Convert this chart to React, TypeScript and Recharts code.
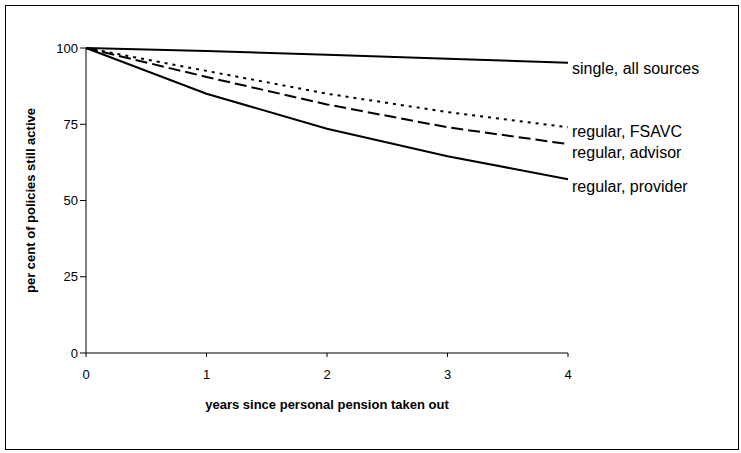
import React from "react";
import { LineChart, Line, XAxis, YAxis, Label, LabelList } from "recharts";

const years = [0, 1, 2, 3, 4];
const single = [100, 99, 97.8, 96.5, 95.2];
const fsavc = [100, 92.5, 85, 79, 74];
const advisor = [100, 90.5, 81.5, 74, 68.5];
const provider = [100, 85, 73.5, 64.5, 57];
const yTicks = [0, 25, 50, 75, 100];

const data = years.map((y, i) => ({ y, single: single[i], fsavc: fsavc[i], advisor: advisor[i], provider: provider[i] }));

const endLabel = (text: string, dy: number) => (props: any) => {
  if (props.index !== years.length - 1) return null;
  return (
    <text x={props.x + 4} y={props.y + dy} fontSize={16} fontFamily="Liberation Sans, Arial" fill="#000" dominantBaseline="middle">
      {text}
    </text>
  );
};

export default function App() {
  return (
    <div style={{ position: "absolute", left: 5, top: 5, width: 734, height: 445, border: "1px solid #000", boxSizing: "border-box", background: "#fff" }}>
      <LineChart width={732} height={443} data={data} margin={{ top: 42, right: 170, bottom: 56, left: 40 }}>
        <XAxis dataKey="y" type="number" domain={[0, 4]} ticks={years} axisLine={{ stroke: "#000" }} tickLine={{ stroke: "#000" }} tickSize={4}
          tick={{ fill: "#000", fontSize: 13, fontFamily: "Liberation Sans, Arial", dy: 11 }} height={40}>
          <Label value="years since personal pension taken out" position="bottom" offset={7} style={{ fontWeight: "bold", fontSize: 13, fill: "#000", fontFamily: "Liberation Sans, Arial" }} />
        </XAxis>
        <YAxis domain={[0, 100]} ticks={yTicks} width={40} axisLine={{ stroke: "#000" }} tickLine={{ stroke: "#000" }}
          tick={{ fill: "#000", fontSize: 13, fontFamily: "Liberation Sans, Arial" }}>
          <Label value="per cent of policies still active" angle={-90} position="insideLeft" offset={-16} style={{ textAnchor: "middle", fontWeight: "bold", fontSize: 13, fill: "#000", fontFamily: "Liberation Sans, Arial" }} />
        </YAxis>
        <Line dataKey="single" stroke="#000" strokeWidth={2} dot={false} isAnimationActive={false}>
          <LabelList content={endLabel("single, all sources", 7)} />
        </Line>
        <Line dataKey="fsavc" stroke="#000" strokeWidth={2} strokeDasharray="3 5" dot={false} isAnimationActive={false}>
          <LabelList content={endLabel("regular, FSAVC", 5)} />
        </Line>
        <Line dataKey="advisor" stroke="#000" strokeWidth={2} strokeDasharray="12 5" dot={false} isAnimationActive={false}>
          <LabelList content={endLabel("regular, advisor", 10)} />
        </Line>
        <Line dataKey="provider" stroke="#000" strokeWidth={2} dot={false} isAnimationActive={false}>
          <LabelList content={endLabel("regular, provider", 9)} />
        </Line>
      </LineChart>
    </div>
  );
}
